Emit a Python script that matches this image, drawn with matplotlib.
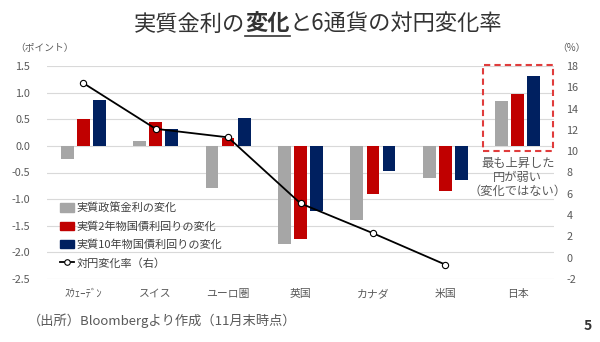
import matplotlib
matplotlib.use("Agg")
import matplotlib.pyplot as plt
from matplotlib.patches import Patch, Rectangle
from matplotlib.lines import Line2D
import numpy as np

plt.rcParams['font.family'] = ['Noto Sans CJK JP', 'DejaVu Sans']

categories = ['ｽｳｪｰﾃﾞﾝ', 'スイス', 'ユーロ圏', '英国', 'カナダ', '米国', '日本']
policy_rate = [-0.25, 0.10, -0.80, -1.85, -1.40, -0.60, 0.85]
yield_2y = [0.50, 0.44, 0.15, -1.75, -0.90, -0.85, 0.98]
yield_10y = [0.87, 0.32, 0.52, -1.22, -0.47, -0.65, 1.32]
fx_change = [16.4, 12.1, 11.3, 5.1, 2.3, -0.65]  # 日本は無し

series_names = ['実質政策金利の変化', '実質2年物国債利回りの変化',
                '実質10年物国債利回りの変化', '対円変化率（右）']
colors = ['#A6A6A6', '#C00000', '#002060']
text_col = '#595959'

fig = plt.figure(figsize=(6, 3.42), dpi=100)
W, H = 600, 342
ax = fig.add_axes([47 / W, 1 - 279 / H, 507 / W, 213 / H])
ax2 = ax.twinx()

x = np.arange(len(categories))
bw = 0.176
step = 0.222
for i, (vals, c) in enumerate(zip([policy_rate, yield_2y, yield_10y], colors)):
    ax.bar(x + (i - 1) * step, vals, width=bw, color=c, zorder=2)

left_ticks = np.arange(-2.5, 1.51, 0.5)
ax.set_xlim(-0.5, len(categories) - 0.5)
ax.set_ylim(-2.5, 1.5)
ax.set_yticks(left_ticks)
ax.set_yticklabels([f'{v:.1f}' for v in left_ticks])
ax.grid(axis='y', color='#D9D9D9', linewidth=0.8, zorder=0)
ax.set_axisbelow(True)
ax.set_xticks(x)
ax.set_xticklabels(categories)
ax.tick_params(axis='both', length=0, labelsize=7.8, colors=text_col)
ax.tick_params(axis='y', pad=12)
ax.tick_params(axis='x', pad=7)
for s in ax.spines.values():
    s.set_visible(False)

ax2.plot(x[:len(fx_change)], fx_change, color='black', linewidth=1.3,
         marker='o', markersize=4.5, markerfacecolor='white',
         markeredgecolor='black', markeredgewidth=0.8, zorder=3)
right_ticks = np.arange(-2, 19, 2)
ax2.set_ylim(-2, 18)
ax2.set_yticks(right_ticks)
ax2.set_yticklabels([str(v) for v in right_ticks])
ax2.tick_params(axis='y', length=0, labelsize=7.8, colors=text_col, pad=9)
for s in ax2.spines.values():
    s.set_visible(False)

# 日本の枠
ax.add_patch(Rectangle((5.52, -0.09), 0.97, 1.61, fill=False, edgecolor='#E03C3C',
                       linestyle=(0, (3, 2)), linewidth=1.5, clip_on=False, zorder=4))
ax.text(6.0, -0.2, '最も上昇した\n円が弱い\n（変化ではない）', ha='center', va='top',
        fontsize=8.8, color=text_col, linespacing=1.1)

handles = [Patch(color=c) for c in colors]
handles.append(Line2D([], [], color='black', linewidth=1.3, marker='o', markersize=4,
                      markerfacecolor='white', markeredgecolor='black', markeredgewidth=0.8))
leg = ax2.legend(handles, series_names, loc='upper left', bbox_to_anchor=(0.025, 0.36),
                 frameon=False, fontsize=8, handlelength=1.3, handleheight=0.8,
                 handletextpad=0.2, labelspacing=0.7, borderpad=0, borderaxespad=0)
for t in leg.get_texts():
    t.set_color('#404040')

# 軸ラベル
fig.text(15 / W, 1 - 48 / H, '（ポイント）', fontsize=7, color=text_col, va='center')
fig.text(557 / W, 1 - 48 / H, '（%）', fontsize=7, color=text_col, va='center')

# タイトル（「変化」を太字・下線）
parts = [('実質金利の', 'normal'), ('変化', 'bold'), ('と6通貨の対円変化率', 'normal')]
renderer = fig.canvas.get_renderer()
texts = []
for s, wt in parts:
    t = fig.text(0, 1 - 24 / H, s, fontsize=16, fontweight=wt, color='#333333', va='center')
    texts.append(t)
widths = [t.get_window_extent(renderer).width for t in texts]
cx = 318
xpos = cx - sum(widths) / 2
starts = []
for t, w in zip(texts, widths):
    t.set_x(xpos / W)
    starts.append(xpos)
    xpos += w
fig.add_artist(Line2D([starts[1] / W, (starts[1] + widths[1]) / W],
                      [1 - 36 / H, 1 - 36 / H], color='#333333', linewidth=1.2))

fig.text(28 / W, 1 - 321 / H, '（出所）Bloombergより作成（11月末時点）', fontsize=9.5,
         color=text_col, va='center')
fig.text(588 / W, 1 - 326 / H, '5', fontsize=10, fontweight='bold', color='#333333',
         va='center', ha='center')

fig.savefig('out.png', dpi=100)
